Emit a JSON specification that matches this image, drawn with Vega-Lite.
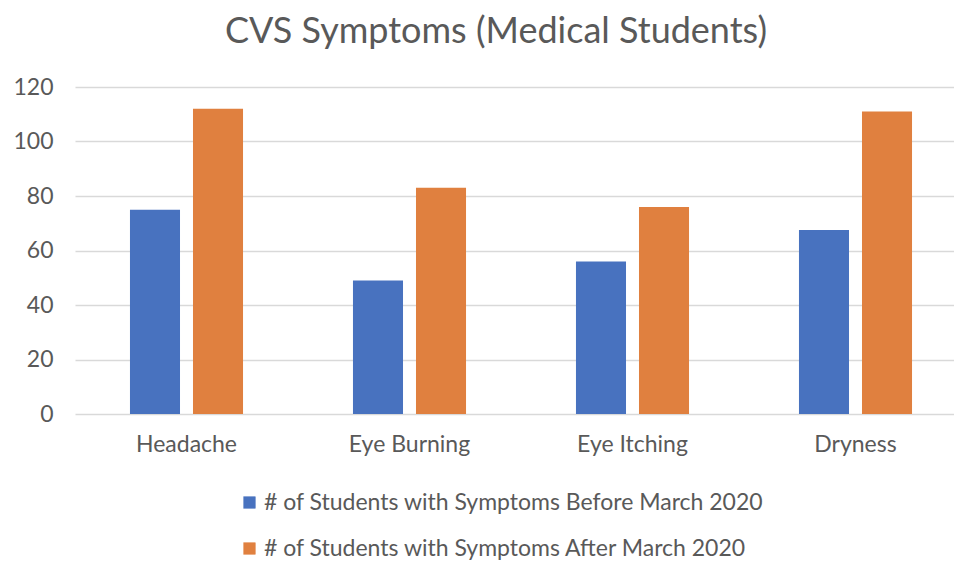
{
  "$schema": "https://vega.github.io/schema/vega-lite/v6.json",
  "width": 892,
  "height": 327,
  "autosize": {"type": "none"},
  "padding": {"left": 75, "top": 87, "right": 0, "bottom": 147},
  "background": "white",
  "title": {
    "text": "CVS Symptoms (Medical Students)",
    "font": "Lato",
    "fontSize": 36,
    "fontWeight": "normal",
    "color": "#595959",
    "baseline": "alphabetic",
    "offset": -3,
    "dx": -25
  },
  "data": {
    "values": [
      {"symptom": "Headache", "series": "# of Students with Symptoms Before March 2020", "count": 75},
      {"symptom": "Headache", "series": "# of Students with Symptoms After March 2020", "count": 112},
      {"symptom": "Eye Burning", "series": "# of Students with Symptoms Before March 2020", "count": 49},
      {"symptom": "Eye Burning", "series": "# of Students with Symptoms After March 2020", "count": 83},
      {"symptom": "Eye Itching", "series": "# of Students with Symptoms Before March 2020", "count": 56},
      {"symptom": "Eye Itching", "series": "# of Students with Symptoms After March 2020", "count": 76},
      {"symptom": "Dryness", "series": "# of Students with Symptoms Before March 2020", "count": 67.5},
      {"symptom": "Dryness", "series": "# of Students with Symptoms After March 2020", "count": 111}
    ]
  },
  "mark": {"type": "bar"},
  "encoding": {
    "x": {
      "field": "symptom",
      "type": "nominal",
      "sort": ["Headache", "Eye Burning", "Eye Itching", "Dryness"],
      "scale": {"paddingInner": 0.493, "paddingOuter": 0.2465},
      "axis": {
        "title": null,
        "labelAngle": 0,
        "labelFont": "Lato",
        "labelFontSize": 23,
        "labelColor": "#595959",
        "labelPadding": 19,
        "ticks": false,
        "domain": false
      }
    },
    "xOffset": {
      "field": "series",
      "type": "nominal",
      "sort": ["# of Students with Symptoms Before March 2020", "# of Students with Symptoms After March 2020"],
      "scale": {"paddingInner": 0.206, "paddingOuter": 0}
    },
    "y": {
      "field": "count",
      "type": "quantitative",
      "scale": {"domain": [0, 120]},
      "axis": {
        "title": null,
        "values": [0, 20, 40, 60, 80, 100, 120],
        "labelFont": "Lato",
        "labelFontSize": 23,
        "labelColor": "#595959",
        "labelPadding": 22,
        "ticks": false,
        "domain": false,
        "gridColor": "#d9d9d9",
        "gridWidth": 1.5
      }
    },
    "color": {
      "field": "series",
      "type": "nominal",
      "sort": ["# of Students with Symptoms Before March 2020", "# of Students with Symptoms After March 2020"],
      "scale": {"range": ["#4872BF", "#E0803F"]},
      "legend": {
        "title": null,
        "orient": "none",
        "legendX": 163,
        "legendY": 404,
        "direction": "vertical",
        "symbolType": "square",
        "symbolSize": 150,
        "symbolStrokeWidth": 0,
        "symbolOpacity": 1,
        "labelFont": "Lato",
        "labelFontSize": 23,
        "labelColor": "#595959",
        "labelOffset": 3,
        "labelLimit": 0,
        "rowPadding": 22
      }
    }
  },
  "config": {"view": {"stroke": null}}
}
